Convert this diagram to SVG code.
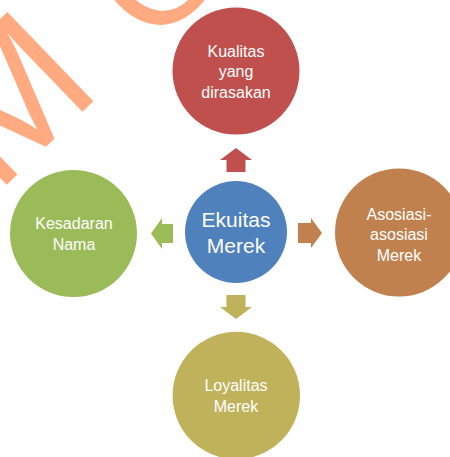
<svg xmlns="http://www.w3.org/2000/svg" width="450" height="457" viewBox="0 0 450 457">
  <style>
    .wm { font-family: "Liberation Sans", Arial, sans-serif; font-size: 180px; fill: #FFAA80; }
    .lbl { font-family: "Liberation Sans", Arial, sans-serif; font-size: 16px; fill: #FFFFFF; text-anchor: middle; }
    .lbl-c { font-family: "Liberation Sans", Arial, sans-serif; font-size: 21px; fill: #FFFFFF; text-anchor: middle; }
  </style>
  <rect width="450" height="457" fill="#FFFFFF"/>
  <g id="watermark">
    <text class="wm" x="0" y="0" transform="translate(-3.9 195) rotate(-44)">M<tspan dx="62.6" dy="3.8" font-size="160">O</tspan></text>
  </g>
  <g id="connectors">
    <polygon fill="#C0504D" points="226.5,172 245.5,172 245.5,160 252,160 236,148 220,160 226.5,160"/>
    <polygon fill="#C0B25A" points="226.5,295 245.5,295 245.5,307 252,307 236,319 220,307 226.5,307"/>
    <polygon fill="#C0814F" points="298,223 311,223 311,218 322,233 311,248 311,243 298,243"/>
    <polygon fill="#9BBB59" points="173,224 162,224 162,218 151,233.5 162,249 162,243 173,243"/>
  </g>
  <g id="node-center">
    <circle cx="236" cy="232" r="51" fill="#4F81BD"/>
    <text class="lbl-c" x="236" y="227">Ekuitas</text>
    <text class="lbl-c" x="236" y="253">Merek</text>
  </g>
  <g id="node-kualitas">
    <circle cx="236" cy="71" r="63.5" fill="#C0504D"/>
    <text class="lbl" x="236" y="56.7">Kualitas</text>
    <text class="lbl" x="236" y="77.2">yang</text>
    <text class="lbl" x="236" y="97.5">dirasakan</text>
  </g>
  <g id="node-kesadaran">
    <circle cx="73.5" cy="233.5" r="63.5" fill="#9BBB59"/>
    <text class="lbl" x="74" y="229.3">Kesadaran</text>
    <text class="lbl" x="74" y="249.5">Nama</text>
  </g>
  <g id="node-asosiasi">
    <circle cx="399" cy="232.5" r="64" fill="#C0814F"/>
    <text class="lbl" x="399" y="219.5">Asosiasi-</text>
    <text class="lbl" x="399" y="240">asosiasi</text>
    <text class="lbl" x="399" y="260.5">Merek</text>
  </g>
  <g id="node-loyalitas">
    <circle cx="236.3" cy="395.5" r="63.7" fill="#C0B25A"/>
    <text class="lbl" x="236" y="391">Loyalitas</text>
    <text class="lbl" x="236" y="411.5">Merek</text>
  </g>
</svg>
